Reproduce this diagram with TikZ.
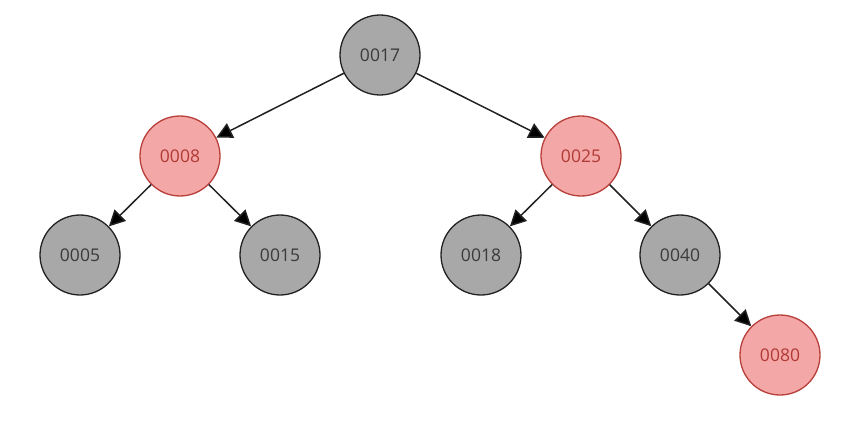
\documentclass[tikz,border=0pt]{standalone}
\usepackage{fontspec}
\setmainfont{Open Sans}
\usetikzlibrary{arrows.meta}
\definecolor{gfill}{HTML}{A8A8A8}
\definecolor{gline}{HTML}{222222}
\definecolor{rfill}{HTML}{F4A7A7}
\definecolor{rline}{HTML}{B8403A}
\definecolor{rtext}{HTML}{B03A35}
\definecolor{gtext}{HTML}{3A3A3A}
\tikzset{
  blk/.style={circle, draw=gline, fill=gfill, line width=1.3pt, minimum size=80pt, inner sep=0pt, text=gtext, font=\fontsize{17.5}{20}\selectfont},
  red/.style={circle, draw=rline, fill=rfill, line width=1.3pt, minimum size=80pt, inner sep=0pt, text=rtext, font=\fontsize{17.5}{20}\selectfont},
  edge/.style={draw=gline, line width=1.5pt, -{Triangle[length=16pt,width=16pt,fill=black]}}
}
\begin{document}
\begin{tikzpicture}[x=1pt,y=-1pt]
\useasboundingbox (0,0) rectangle (865,444);
\node[blk] (n17) at (380,55) {0017};
\node[red] (n8) at (180,156) {0008};
\node[red] (n25) at (581,156) {0025};
\node[blk] (n5) at (80,255) {0005};
\node[blk] (n15) at (280,255) {0015};
\node[blk] (n18) at (481,255) {0018};
\node[blk] (n40) at (680,255) {0040};
\node[red] (n80) at (780,355) {0080};
\draw[edge] (n17) -- (n8);
\draw[edge] (n17) -- (n25);
\draw[edge] (n8) -- (n5);
\draw[edge] (n8) -- (n15);
\draw[edge] (n25) -- (n18);
\draw[edge] (n25) -- (n40);
\draw[edge] (n40) -- (n80);
\end{tikzpicture}
\end{document}
